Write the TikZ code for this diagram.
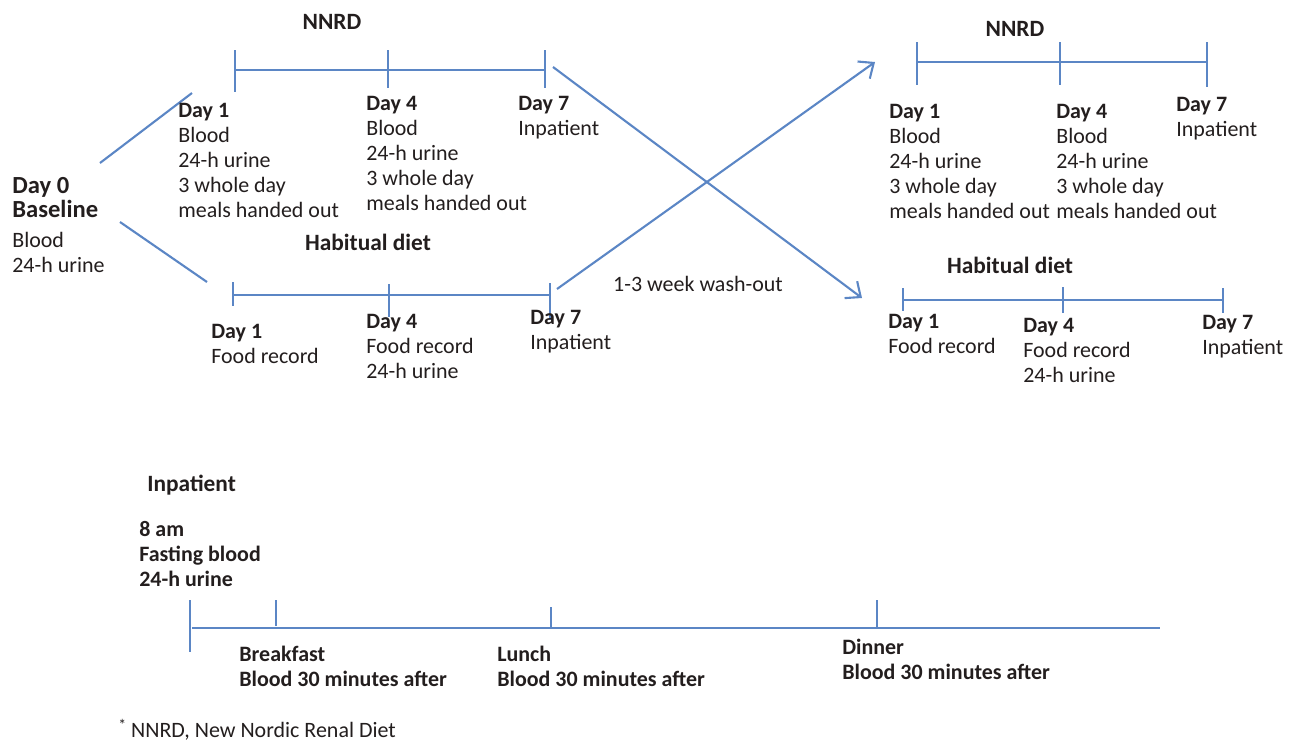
\documentclass[tikz,border=0pt]{standalone}
\usepackage{fontspec}
\setmainfont{Carlito}
\usetikzlibrary{arrows.meta}
\definecolor{lineblue}{RGB}{91,134,197}
\definecolor{txt}{RGB}{35,30,30}
\begin{document}
\begin{tikzpicture}[x=0.02cm,y=-0.02cm,
  tl/.style={draw=lineblue,line width=1.2pt},
  arr/.style={tl,-{Straight Barb[length=7pt,width=12pt,line width=1.2pt]}},
  lbl/.style={inner sep=0pt,anchor=base west,align=left,text=txt,font=\fontsize{12.5}{14.23}\selectfont},
  blbl/.style={lbl,font=\fontsize{12.5}{14.23}\selectfont\bfseries},
  head/.style={inner sep=0pt,anchor=base,text=txt,font=\fontsize{13.3}{16}\selectfont\bfseries},
]
\useasboundingbox (0,0) rectangle (1289,741);
% (text nodes are placed at the baseline of their last line)

% ---------- Day 0 ----------
\node[lbl,font=\fontsize{14}{13.6}\selectfont\bfseries] (d0) at (12,217) {Day 0\\Baseline};
\node[lbl] (d0b) at (12,272) {Blood\\24-h urine};
\coordinate (b0u) at (100,163); \coordinate (b1u) at (192,93);
\coordinate (b0l) at (120,222); \coordinate (b1l) at (207,282);
\draw[tl] (b0u) -- (b1u);
\draw[tl] (b0l) -- (b1l);

% ---------- Left NNRD ----------
\node[head] (hn1) at (332,29) {NNRD};
\coordinate (n1a) at (235,70); \coordinate (n1b) at (388,70); \coordinate (n1c) at (545,70);
\draw[tl] (n1a) -- (n1c);
\draw[tl] (235,50) -- (235,92);
\draw[tl] (388,50) -- (388,88);
\draw[tl] (545,50) -- (545,88);
\node[lbl] (n1d1) at (178,217) {\textbf{Day 1}\\Blood\\24-h urine\\3 whole day\\meals handed out};
\node[lbl] (n1d4) at (366,210) {\textbf{Day 4}\\Blood\\24-h urine\\3 whole day\\meals handed out};
\node[lbl] (n1d7) at (518,135) {\textbf{Day 7}\\Inpatient};

% ---------- Left Habitual diet ----------
\node[head] (hh1) at (368,250) {Habitual diet};
\coordinate (h1a) at (233,295); \coordinate (h1b) at (389,295); \coordinate (h1c) at (550,295);
\draw[tl] (h1a) -- (h1c);
\draw[tl] (233,282) -- (233,306);
\draw[tl] (389,284) -- (389,317);
\draw[tl] (550,283) -- (550,320);
\node[lbl] (h1d1) at (211,363) {\textbf{Day 1}\\Food record};
\node[lbl] (h1d4) at (366,378) {\textbf{Day 4}\\Food record\\24-h urine};
\node[lbl] (h1d7) at (530,349) {\textbf{Day 7}\\Inpatient};

% ---------- Cross-over ----------
\coordinate (xa0) at (553,67); \coordinate (xa1) at (862,298);
\coordinate (xb0) at (557,289); \coordinate (xb1) at (875,62);
\draw[arr] (xa0) -- (xa1);
\draw[arr] (xb0) -- (xb1);
\node[lbl,anchor=base] (wash) at (698,291) {1-3 week wash-out};

% ---------- Right NNRD ----------
\node[head] (hn2) at (1015,36) {NNRD};
\coordinate (n2a) at (917,62); \coordinate (n2b) at (1060,62); \coordinate (n2c) at (1207,62);
\draw[tl] (n2a) -- (n2c);
\draw[tl] (917,42) -- (917,85);
\draw[tl] (1060,42) -- (1060,85);
\draw[tl] (1207,42) -- (1207,87);
\node[lbl] (n2d1) at (889,218) {\textbf{Day 1}\\Blood\\24-h urine\\3 whole day\\meals handed out};
\node[lbl] (n2d4) at (1056,218) {\textbf{Day 4}\\Blood\\24-h urine\\3 whole day\\meals handed out};
\node[lbl] (n2d7) at (1176,136) {\textbf{Day 7}\\Inpatient};

% ---------- Right Habitual diet ----------
\node[head] (hh2) at (1010,273) {Habitual diet};
\coordinate (h2a) at (903,300); \coordinate (h2b) at (1063,300); \coordinate (h2c) at (1223,300);
\draw[tl] (h2a) -- (h2c);
\draw[tl] (903,288) -- (903,311);
\draw[tl] (1063,287) -- (1063,313);
\draw[tl] (1223,288) -- (1223,313);
\node[lbl] (h2d1) at (888,353) {\textbf{Day 1}\\Food record};
\node[lbl] (h2d4) at (1023,382) {\textbf{Day 4}\\Food record\\24-h urine};
\node[lbl] (h2d7) at (1202,354) {\textbf{Day 7}\\Inpatient};

% ---------- Inpatient day ----------
\node[head,anchor=base west] (inp) at (147,491) {Inpatient};
\node[blbl] (am8) at (139,586) {8 am\\Fasting blood\\24-h urine};
\coordinate (ia) at (192,628); \coordinate (ib) at (1160,628);
\draw[tl] (ia) -- (ib);
\draw[tl] (190,600) -- (190,652);
\draw[tl] (276,600) -- (276,626);
\draw[tl] (551,607) -- (551,627);
\draw[tl] (877,600) -- (877,627);
\node[blbl] (bf) at (239,686) {Breakfast\\Blood 30 minutes after};
\node[blbl] (lu) at (497,686) {Lunch\\Blood 30 minutes after};
\node[blbl] (di) at (842,679) {Dinner\\Blood 30 minutes after};

% ---------- Footnote ----------
\node[lbl] (fn) at (118,737) {\raisebox{0.3em}{\small*} NNRD, New Nordic Renal Diet};
\end{tikzpicture}
\end{document}
